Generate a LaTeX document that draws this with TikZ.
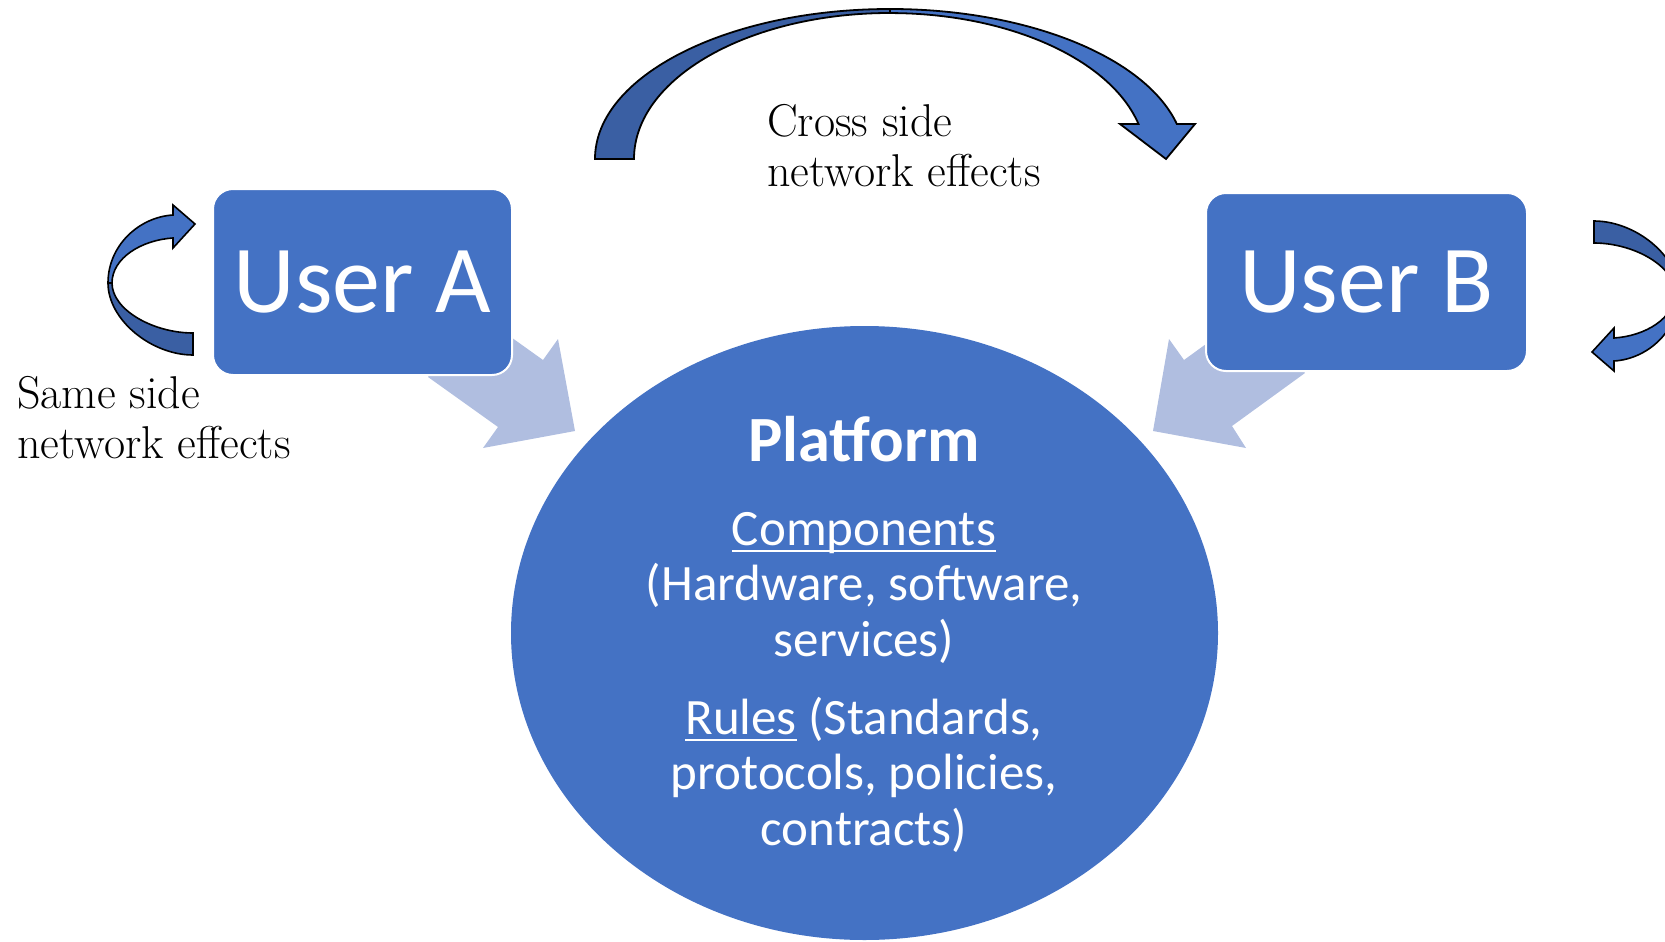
\documentclass[tikz,border=0pt]{standalone}
\usepackage{fontspec}
\usetikzlibrary{shapes.geometric}
\newfontfamily\calib{Carlito}
\definecolor{mblue}{HTML}{4472C4}
\definecolor{dblue}{HTML}{3A5FA3}
\definecolor{lblue}{HTML}{B0BEE0}
\newsavebox\myulbox
\newcommand\myul[1]{\sbox\myulbox{#1}\rlap{\raisebox{-7pt}{\rule{\wd\myulbox}{2.4pt}}}\usebox\myulbox}
\newcommand\samesidearrow{%
  \filldraw[dblue,draw=black,line width=1.6] (-43.5,3) .. controls (-43.5,40) and (0,75) .. (41.5,75) -- (41.5,53) .. controls (2,53) and (-39.5,30) .. (-39.5,3) -- cycle;
  \filldraw[mblue,draw=black,line width=1.6] (-43.5,3) .. controls (-43.5,-35) and (-12,-63) .. (21.5,-65) -- (21.5,-75) -- (43.5,-56) -- (21.5,-32) -- (21.5,-42) .. controls (-10,-40) and (-39.5,-22) .. (-39.5,3) -- cycle;
}
\tikzset{
  ubox/.style={draw=white, line width=2, fill=mblue, rounded corners=20, text=white, inner sep=0,
    font=\calib\fontsize{96}{100}\selectfont},
  wtext/.style={text=white, inner sep=0, align=center, font=\calib\fontsize{51}{55.5}\selectfont},
  btext/.style={text=black, inner sep=0, align=left, anchor=base west, font=\fontsize{46}{50}\selectfont},
  lightarrow/.style={fill=lblue},
  band/.style={draw=black, line width=1.8}
}
\begin{document}
\begin{tikzpicture}[x=1pt,y=-1pt]
\useasboundingbox (0,0) rectangle (1665,942);
% light arrows
\fill[lightarrow] (428,377) -- (498,427) -- (483,448) -- (575,431) -- (558,339) -- (543,360) -- (473,310) -- cycle;
\fill[lightarrow] (1305,373) -- (1232,426) -- (1246,448) -- (1153,431) -- (1169,339) -- (1184,360) -- (1257,307) -- cycle;
% platform
\node[ellipse, fill=mblue, minimum width=707, minimum height=614, inner sep=0] (plat) at (864.5,633) {};
\node[wtext, anchor=base, font=\calib\bfseries\fontsize{64.5}{70}\selectfont] (ptitle) at (864,461) {Platform};
\node[wtext, anchor=base] (comp) at (864,656) {\myul{Components}\\(Hardware, software,\\services)};
\node[wtext, anchor=base] (rules) at (864,845) {\myul{Rules} (Standards,\\protocols, policies,\\contracts)};
% users
\node[ubox, minimum width=299, minimum height=186] (ua) at (362.5,282) {User A};
\node[ubox, minimum width=321, minimum height=178] (ub) at (1366.5,282) {User B};
% cross side arrow
\filldraw[mblue,band] (890,9) arc[start angle=270, end angle=346.5, x radius=295, y radius=150]
  -- (1195,124) -- (1166,159) -- (1120,124) -- (1138.5,124)
  arc[start angle=346.1, end angle=270, x radius=256, y radius=146] -- cycle;
\filldraw[dblue,band] (595,159) arc[start angle=180, end angle=270, x radius=295, y radius=150]
  -- (890,13) arc[start angle=270, end angle=180, x radius=256, y radius=146] -- cycle;
\node[btext] (cross) at (767,186) {Cross side\\network effects};
% same side arrows
\begin{scope}[shift={(151.5,280)}]
\samesidearrow
\end{scope}
\begin{scope}[shift={(1635.5,296)}, rotate=180]
\samesidearrow
\end{scope}
\node[btext] (same) at (17,458) {Same side\\network effects};
\end{tikzpicture}
\end{document}
